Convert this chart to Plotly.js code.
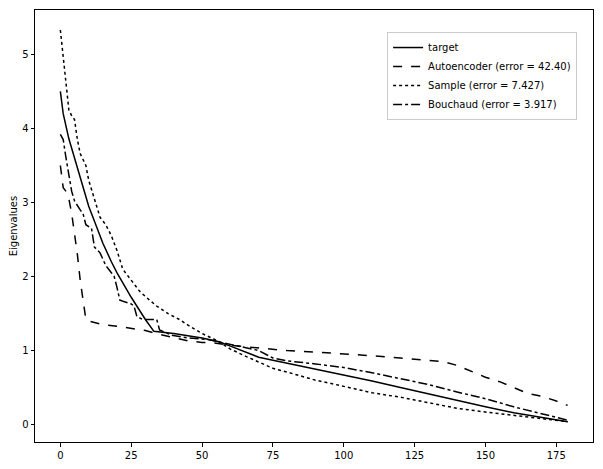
<!DOCTYPE html>
<html>
<head>
<meta charset="utf-8">
<script src="https://cdn.plot.ly/plotly-3.0.1.min.js"></script>
<style>
  html, body { margin: 0; padding: 0; background: #fff; }
  #myGraph { width: 603px; height: 469px; }
</style>
</head>
<body>
<div id="myGraph"></div>
<script>
// 數據 (從圖上讀出來的估計值)
let targetX = [0, 1, 3, 5, 8, 10, 12, 15, 18, 20, 25, 30, 33, 40, 50, 56, 60, 65, 70, 75, 80, 90, 100, 110, 120, 130, 140, 150, 160, 170, 179];
let targetY = [4.50, 4.20, 3.86, 3.60, 3.20, 2.95, 2.75, 2.45, 2.20, 2.05, 1.72, 1.42, 1.26, 1.23, 1.17, 1.12, 1.06, 0.98, 0.91, 0.87, 0.83, 0.75, 0.68, 0.59, 0.50, 0.41, 0.32, 0.24, 0.16, 0.10, 0.04];

let autoX = [0, 1, 2, 3, 4, 5, 6, 7, 8, 9, 10, 12, 15, 20, 25, 30, 35, 40, 45, 50, 55, 60, 65, 70, 75, 80, 90, 100, 110, 120, 125, 130, 135, 140, 145, 150, 155, 160, 165, 170, 175, 177, 179];
let autoY = [3.50, 3.20, 3.15, 3.05, 2.85, 2.60, 2.30, 1.95, 1.70, 1.42, 1.40, 1.38, 1.35, 1.33, 1.30, 1.27, 1.22, 1.17, 1.13, 1.11, 1.10, 1.07, 1.05, 1.03, 1.02, 1.00, 0.98, 0.96, 0.93, 0.90, 0.88, 0.86, 0.85, 0.80, 0.72, 0.64, 0.58, 0.50, 0.42, 0.38, 0.32, 0.28, 0.26];

let sampleX = [0, 1, 2, 3, 4, 5, 6, 7, 8, 9, 10, 12, 14, 16, 18, 20, 22, 24, 26, 28, 30, 34, 38, 42, 46, 50, 55, 60, 65, 70, 75, 80, 85, 90, 95, 100, 110, 120, 130, 140, 150, 160, 170, 179];
let sampleY = [5.33, 4.95, 4.65, 4.25, 4.17, 4.12, 3.85, 3.66, 3.58, 3.50, 3.30, 3.05, 2.80, 2.70, 2.55, 2.35, 2.10, 2.00, 1.90, 1.80, 1.73, 1.60, 1.50, 1.42, 1.32, 1.23, 1.14, 1.02, 0.93, 0.84, 0.76, 0.71, 0.65, 0.60, 0.56, 0.52, 0.43, 0.37, 0.29, 0.22, 0.17, 0.12, 0.08, 0.04];

let bouchX = [0, 1, 2, 3, 4, 5, 6, 7, 8, 9, 11, 12, 14, 16, 18, 19, 20, 21, 25, 26, 27, 29, 34, 35, 39, 45, 52, 58, 65, 70, 75, 80, 90, 100, 110, 120, 130, 140, 150, 160, 170, 179];
let bouchY = [3.92, 3.85, 3.60, 3.40, 3.15, 3.02, 2.95, 2.90, 2.85, 2.70, 2.65, 2.40, 2.32, 2.15, 2.05, 2.00, 1.85, 1.68, 1.63, 1.60, 1.46, 1.42, 1.42, 1.28, 1.21, 1.17, 1.15, 1.10, 1.05, 1.00, 0.90, 0.86, 0.82, 0.77, 0.70, 0.62, 0.54, 0.44, 0.35, 0.24, 0.15, 0.06];

let xTicks = [0, 25, 50, 75, 100, 125, 150, 175];
let yTicks = [0, 1, 2, 3, 4, 5];

let myGraph = document.getElementById('myGraph');

let lineStyle = function (dash) {
    return { color: '#000', width: 1.5, dash: dash };
};

let data = [];
data.push({ type: 'scatter', mode: 'lines', name: 'target', x: targetX, y: targetY, line: lineStyle('solid') });
data.push({ type: 'scatter', mode: 'lines', name: 'Autoencoder (error = 42.40)', x: autoX, y: autoY, line: lineStyle('dash') });
data.push({ type: 'scatter', mode: 'lines', name: 'Sample (error = 7.427)', x: sampleX, y: sampleY, line: lineStyle('dot') });
data.push({ type: 'scatter', mode: 'lines', name: 'Bouchaud (error = 3.917)', x: bouchX, y: bouchY, line: lineStyle('dashdot') });

let axisCommon = {
    showline: true,
    mirror: true,
    linecolor: '#000',
    linewidth: 1,
    showgrid: false,
    zeroline: false,
    ticks: 'outside',
    ticklen: 3.5,
    tickwidth: 1,
    tickcolor: '#000',
    tickfont: { family: 'DejaVu Sans', size: 10, color: '#000' }
};

let layout = {
    width: 603,
    height: 469,
    margin: { t: 10, r: 10, l: 35, b: 27 },
    paper_bgcolor: '#fff',
    plot_bgcolor: '#fff',
    font: { family: 'DejaVu Sans', size: 10, color: '#000' },
    xaxis: Object.assign({}, axisCommon, {
        range: [-8.95, 187.95],
        tickvals: xTicks
    }),
    yaxis: Object.assign({}, axisCommon, {
        range: [-0.235, 5.6],
        tickvals: yTicks,
        title: { text: 'Eigenvalues', font: { family: 'DejaVu Sans', size: 10 }, standoff: 2 }
    }),
    showlegend: true,
    legend: {
        x: 0.631,
        y: 0.949,
        xanchor: 'left',
        yanchor: 'top',
        bgcolor: '#fff',
        bordercolor: '#ccc',
        borderwidth: 1,
        font: { family: 'DejaVu Sans', size: 10, color: '#000' }
    }
};

Plotly.newPlot(myGraph, data, layout, { displayModeBar: false, staticPlot: true });
</script>
</body>
</html>
